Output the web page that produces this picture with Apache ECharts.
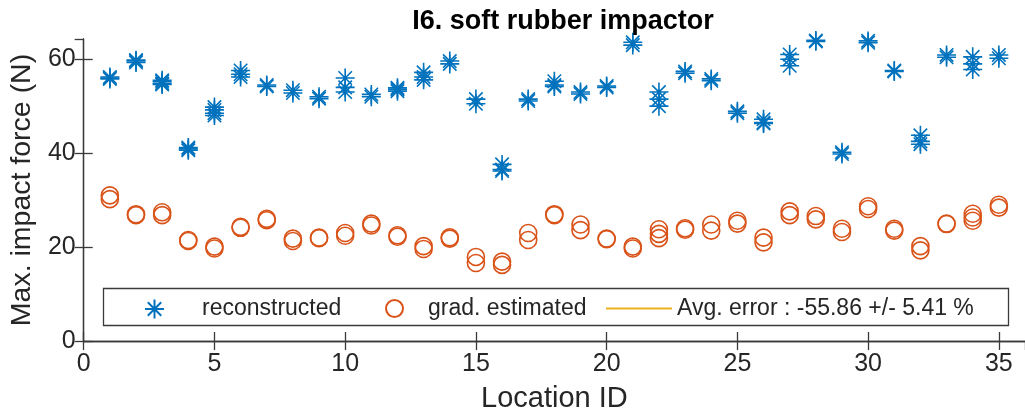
<!DOCTYPE html>
<html>
<head>
<meta charset="utf-8">
<script src="https://cdn.jsdelivr.net/npm/echarts@6/dist/echarts.min.js"></script>
<style>
  html, body { margin: 0; padding: 0; background: #fff; }
  #chart { width: 1025px; height: 418px; }
</style>
</head>
<body>
<div id="chart"></div>
<script>
// Impact locations and repeated measurements per location (N)
const locationIds = [1,2,3,4,5,6,7,8,9,10,11,12,13,14,15,16,17,18,19,20,21,22,23,24,25,26,27,28,29,30,31,32,33,34,35];

const reconstructed = [
  [56.2, 55.8, 56.0], [59.8, 59.3, 59.6], [55.5, 54.8, 55.2, 54.6], [41.2, 40.6, 40.9],
  [49.8, 48.5, 48.0, 49.2], [57.6, 56.8, 56.2], [54.5, 54.2], [53.4, 52.8],
  [52.0, 51.6], [56.0, 54.0, 53.0], [52.5, 52.0], [53.9, 53.2, 53.6],
  [57.2, 56.2, 55.6], [59.6, 59.0], [51.5, 50.5], [37.6, 36.5, 36.2],
  [51.5, 51.1], [55.3, 54.5, 54.2], [53.0, 52.6], [54.3, 54.0],
  [63.6, 63.0], [53.0, 51.5, 50.0], [57.4, 57.0], [55.8, 55.4],
  [48.9, 48.5], [47.2, 46.5, 46.3], [61.0, 60.0, 58.6], [64.0, 63.8],
  [40.2, 39.8], [63.9, 63.5], [57.6, 57.4], [43.8, 42.5, 41.9],
  [60.9, 60.4], [60.5, 59.0, 57.8], [60.9, 60.2]
];

const gradEstimated = [
  [31.0, 30.2], [27.0, 26.8], [27.4, 26.8], [21.5, 21.3],
  [20.1, 19.7], [24.3, 24.1], [26.0, 25.7], [21.8, 21.3],
  [22.0, 21.9], [23.0, 22.4], [25.0, 24.6], [22.5, 22.2],
  [20.2, 19.6], [22.1, 21.8], [17.9, 16.6], [16.9, 16.2],
  [23.0, 21.5], [27.0, 26.8], [24.8, 23.6], [21.8, 21.7],
  [20.1, 19.7], [23.8, 22.8, 21.9], [24.0, 23.7], [24.8, 23.5],
  [25.6, 25.0], [22.0, 21.0], [27.6, 26.8], [26.6, 25.9],
  [23.9, 23.2], [28.7, 28.1], [23.9, 23.5], [20.2, 19.3],
  [25.0, 24.9], [27.1, 26.3, 25.6], [29.0, 28.4]
];

const xTicks = [0, 5, 10, 15, 20, 25, 30, 35];
const yTicks = [0, 20, 40, 60];

const seriesNames = ['reconstructed', 'grad. estimated', 'Avg. error : -55.86 +/- 5.41 %'];
const titleText = 'I6. soft rubber impactor';
const xName = 'Location ID';
const yName = 'Max. impact force (N)';

// flatten repeats into [location, force] pairs
function toPoints(groups) {
  const pts = [];
  groups.forEach((vals, i) => vals.forEach(v => pts.push([locationIds[i], v])));
  return pts;
}

const BLUE = '#0072BD', ORANGE = '#D95319', YELLOW = '#EDB120';
const AXIS = '#3a3a3a', TEXT = '#262626';
const FONT = '"Liberation Sans", Arial, Helvetica, sans-serif';
const STAR = 'path://M10 0L10 20M0 10L20 10M2.93 2.93L17.07 17.07M17.07 2.93L2.93 17.07';

const chart = echarts.init(document.getElementById('chart'), null, { renderer: 'canvas' });

const axisCommon = {
  axisLine: { show: true, lineStyle: { color: AXIS, width: 1.3 } },
  axisTick: { show: true, inside: true, length: 9, lineStyle: { color: AXIS, width: 1.3 } },
  splitLine: { show: false }
};

const legendText = { fontFamily: FONT, fontSize: 23, color: TEXT };

chart.setOption({
  animation: false,
  backgroundColor: '#fff',
  title: {
    text: titleText,
    left: 558, top: 3, textAlign: 'center',
    textStyle: { fontFamily: FONT, fontWeight: 'bold', fontSize: 27, color: '#000' }
  },
  grid: { left: 83, top: 39, right: -7, bottom: 76.3, containLabel: false },
  xAxis: [
    Object.assign({
      type: 'value', min: 0, max: 36, interval: 5, position: 'bottom',
      name: xName, nameLocation: 'middle', nameGap: 43,
      nameTextStyle: { fontFamily: FONT, fontSize: 29, color: TEXT },
      axisLabel: {
        fontFamily: FONT, fontSize: 25, color: TEXT, margin: 11, showMaxLabel: false,
        formatter: v => (xTicks.indexOf(v) >= 0 ? String(v) : '')
      }
    }, axisCommon),
    Object.assign({
      type: 'value', min: 0, max: 36, interval: 5, position: 'top',
      axisLabel: { show: false }
    }, axisCommon)
  ],
  yAxis: [
    Object.assign({
      type: 'value', min: 0, max: 64.3, interval: 20, position: 'left',
      name: yName, nameLocation: 'middle', nameGap: 45,
      nameTextStyle: { fontFamily: FONT, fontSize: 28.5, color: TEXT },
      axisLabel: {
        fontFamily: FONT, fontSize: 25, color: TEXT, margin: 8, showMaxLabel: false,
        formatter: v => (yTicks.indexOf(v) >= 0 ? String(v) : '')
      }
    }, axisCommon),
    Object.assign({
      type: 'value', min: 0, max: 64.3, interval: 20, position: 'right',
      axisLabel: { show: false }
    }, axisCommon)
  ],
  legend: [
    {
      data: [{ name: seriesNames[0] }],
      left: 142.5, top: 297, padding: 0, itemWidth: 19, itemHeight: 19,
      selectedMode: false,
      formatter: '{gap|}{t|{name}}',
      textStyle: Object.assign({ rich: { gap: { width: 33 }, t: legendText } }, legendText)
    },
    {
      data: [{ name: seriesNames[1] }],
      left: 383.5, top: 297, padding: 0, itemWidth: 17, itemHeight: 17,
      selectedMode: false,
      formatter: '{gap|}{t|{name}}',
      textStyle: Object.assign({ rich: { gap: { width: 20 }, t: legendText } }, legendText)
    },
    {
      data: [{ name: seriesNames[2], icon: 'rect', itemStyle: { color: YELLOW } }],
      left: 606, top: 297, padding: 0, itemWidth: 66, itemHeight: 2,
      symbolKeepAspect: false,
      selectedMode: false,
      textStyle: legendText
    }
  ],
  graphic: [{
    type: 'rect', z: 3,
    shape: { x: 103.5, y: 288.5, width: 905, height: 37 },
    style: { fill: '#fff', stroke: AXIS, lineWidth: 1.3 }
  }],
  series: [
    {
      name: seriesNames[0], type: 'scatter', clip: false, z: 2,
      symbol: STAR, symbolSize: 19,
      itemStyle: { color: 'none', borderColor: BLUE, borderWidth: 1.6, opacity: 1 },
      data: toPoints(reconstructed)
    },
    {
      name: seriesNames[1], type: 'scatter', clip: false, z: 2,
      symbol: 'circle', symbolSize: 17,
      itemStyle: { color: 'none', borderColor: ORANGE, borderWidth: 1.6, opacity: 1 },
      data: toPoints(gradEstimated)
    },
    {
      name: seriesNames[2], type: 'line', symbol: 'none',
      lineStyle: { color: YELLOW, width: 1.6 },
      itemStyle: { color: YELLOW },
      data: []
    }
  ]
});
</script>
</body>
</html>
